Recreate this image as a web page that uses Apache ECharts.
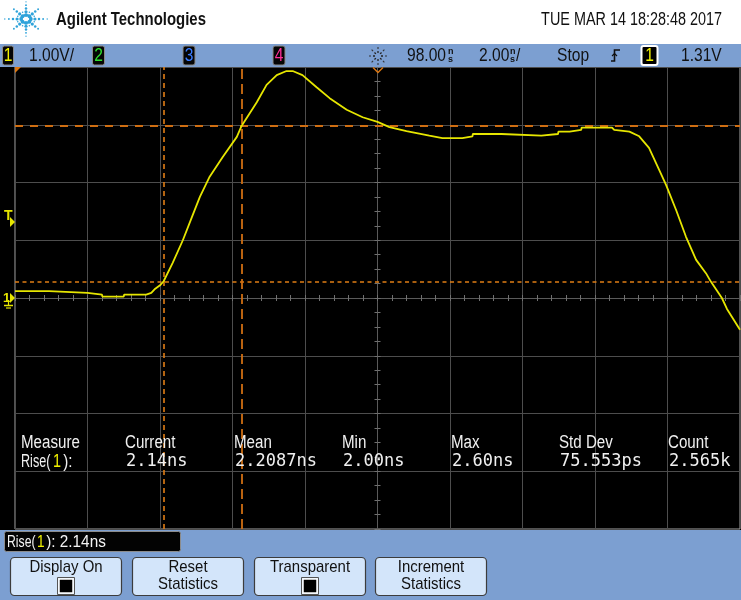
<!DOCTYPE html>
<html><head><meta charset="utf-8">
<script src="https://cdn.jsdelivr.net/npm/echarts@6/dist/echarts.min.js"></script>
<style>html,body{margin:0;padding:0;background:#000;}#c{width:741px;height:600px;}</style>
</head><body><div id="c"></div>
<script>
// ---- data ----
const timeNs = [88.00, 88.94, 88.95, 90.00, 90.01, 90.40, 90.41, 91.00, 91.01, 91.62, 91.63, 91.76,
  91.85, 92.00, 92.10, 92.35, 92.63, 92.88, 93.10, 93.37, 93.73, 94.12, 94.25, 94.67, 94.94, 95.22,
  95.49, 95.66, 95.93, 96.32, 96.68, 97.15, 97.59, 98.00, 98.33, 98.80, 99.43, 99.79, 100.34, 100.35,
  100.62, 100.63, 101.42, 101.43, 102.52, 102.53, 102.98, 102.99, 103.30, 103.31, 103.62, 103.63,
  104.47, 104.53, 104.95, 105.22, 105.49, 105.77, 105.96, 106.24, 106.51, 106.79, 107.06, 107.20,
  107.50, 107.64, 108.00];
const volts = [0.12, 0.12, 0.087, 0.087, 0.06, 0.06, 0.025, 0.025, 0.06, 0.06, 0.09, 0.09,
  0.15, 0.22, 0.29, 0.61, 1.00, 1.40, 1.75, 2.10, 2.44, 2.79, 2.98, 3.39, 3.69, 3.86,
  3.93, 3.93, 3.86, 3.65, 3.46, 3.26, 3.13, 3.05, 2.96, 2.89, 2.81, 2.77, 2.77, 2.80,
  2.80, 2.84, 2.84, 2.81, 2.81, 2.84, 2.84, 2.88, 2.88, 2.91, 2.91, 2.95,
  2.95, 2.91, 2.88, 2.80, 2.60, 2.22, 1.96, 1.52, 1.06, 0.66, 0.43, 0.28,
  0.00, -0.19, -0.55];
const delayNs = 98.00;          // horizontal position (screen centre)
const timePerDiv = 2.00;        // ns/div
const voltsPerDiv = 1.00;       // V/div
const hCursorV = [0.29, 2.98];  // rise-time threshold cursors (V)
const vCursorNs = [92.10, 94.25];
const measHeaders = ['Measure', 'Current', 'Mean', 'Min', 'Max', 'Std Dev', 'Count'];
const measValues = ['2.14ns', '2.2087ns', '2.00ns', '2.60ns', '75.553ps', '2.565k'];
const headerDate = 'TUE MAR 14 18:28:48 2017';
const triggerLevel = '1.31V';

// ---- drawing ----
const F = 'Liberation Sans, Arial, sans-serif';
const MONO = 'DejaVu Sans Mono, monospace';
const BLUE = '#7c9fd1';
const ORANGE = '#dc7712';
const YEL = '#e6e600';
const G = [];
function txt(x, y, s, size, color, o) {
  o = o || {};
  return { type: 'text', x: x, y: y, scaleX: o.sx == null ? 0.82 : o.sx, z: 100, silent: true,
    style: { x: 0, y: 0, text: s, fill: color,
      font: (o.bold ? 'bold ' : '') + size + 'px ' + (o.font || F),
      textAlign: o.align || 'left', align: o.align || 'left',
      textVerticalAlign: 'middle', verticalAlign: 'middle' } };
}
function rect(x, y, w, h, fill, stroke, lw, r) {
  return { type: 'rect', z: 90, silent: true, shape: { x: x, y: y, width: w, height: h, r: r || 0 },
    style: { fill: fill || 'none', stroke: stroke || 'none', lineWidth: lw || 1 } };
}
function poly(points, stroke, lw, fill) {
  return { type: fill ? 'polygon' : 'polyline', z: 95, silent: true, shape: { points: points },
    style: { stroke: stroke || 'none', lineWidth: lw || 1, fill: fill || 'none' } };
}
// header + panels
G.push(rect(0, 0, 741, 44, '#ffffff'));
G.push(rect(0, 44, 741, 23, BLUE));
G.push(rect(0, 530, 741, 70, BLUE));
// Agilent spark logo
(function () {
  const cx = 26, cy = 19;
  for (let a = 0; a < 16; a++) {
    const ang = a * Math.PI / 8;
    const main = a % 2 === 0;
    const n = main ? (a % 4 === 0 ? 5 : 4) : 2;
    for (let k = 0; k < n; k++) {
      const r = 4.6 + k * 3.9;
      const rad = main ? [1.9, 1.6, 1.25, 0.95, 0.7][k] : [1.2, 0.8][k];
      G.push({ type: 'circle', z: 90, silent: true,
        shape: { cx: cx + r * Math.cos(ang) * 1.05, cy: cy + r * Math.sin(ang) * 0.85, r: rad },
        style: { fill: '#2fa3da' } });
    }
  }
})();
G.push(txt(56, 20, 'Agilent Technologies', 18, '#111', { bold: true, sx: 0.83 }));
G.push(txt(722, 20, headerDate, 18, '#111', { align: 'right', sx: 0.8 }));
// channel boxes in top bar
function chBox(x, w, label, color, border, lw) {
  G.push(rect(x, 46, w, 19, '#050505', border, lw, 2));
  G.push(txt(x + w / 2, 56, label, 19, color, { align: 'center' }));
}
chBox(2.5, 11, '1', '#f2f200', '#8a8a8a', 1);
G.push(txt(29, 56, '1.00V/', 19, '#111'));
chBox(92.5, 12, '2', '#2fe02f', '#8a8a8a', 1);
chBox(183, 12, '3', '#3a7cff', '#8a8a8a', 1);
chBox(273, 12, '4', '#ff2f9a', '#8a8a8a', 1);
// acquisition sparkle icon
(function () {
  const cx = 378, cy = 56;
  for (let a = 0; a < 8; a++) {
    const ang = a * Math.PI / 4;
    const c = Math.cos(ang), s = Math.sin(ang);
    G.push(poly([[cx + 3 * c, cy + 3 * s], [cx + 5 * c, cy + 5 * s]], '#222', 1.3));
    G.push(poly([[cx + 7 * c, cy + 7 * s], [cx + 9 * c, cy + 9 * s]], '#333', 1.1));
  }
})();
G.push(txt(407, 56, '98.00', 19, '#111'));
G.push(txt(448, 51.5, 'n', 9, '#111', { bold: true, sx: 1 }));
G.push(txt(448, 59.5, 's', 9, '#111', { bold: true, sx: 1 }));
G.push(txt(479, 56, '2.00', 19, '#111'));
G.push(txt(510, 51.5, 'n', 9, '#111', { bold: true, sx: 1 }));
G.push(txt(510, 59.5, 's', 9, '#111', { bold: true, sx: 1 }));
G.push(txt(516, 56, '/', 19, '#111'));
G.push(txt(557, 56, 'Stop', 19, '#111'));
G.push(poly([[611, 61], [614.5, 61], [614.5, 50], [620, 50]], '#111', 1.6));
G.push(poly([[612, 56], [614.5, 53.5], [617, 56]], '#111', 1.2));
G.push(rect(641.5, 46, 16, 19, '#000', '#ffffff', 2, 2));
G.push(txt(649.5, 56, '1', 19, '#f2f200', { align: 'center' }));
G.push(txt(681, 56, triggerLevel, 19, '#111'));
// graticule markers
G.push(poly([[15, 67], [21, 67], [15, 73]], null, 1, ORANGE));
G.push(poly([[373, 67.5], [378, 72.5], [383, 67.5]], ORANGE, 1.4));
G.push(txt(4, 216, 'T', 14, YEL, { bold: true, sx: 1 }));
G.push(poly([[10, 217], [15, 222], [10, 227]], null, 1, YEL));
G.push(txt(3, 298, '1', 13, YEL, { bold: true, sx: 1 }));
G.push(poly([[10, 293], [15, 298], [10, 303]], null, 1, YEL));
G.push(poly([[8.5, 300], [8.5, 305]], YEL, 1.2));
G.push(poly([[4, 305.5], [13, 305.5]], YEL, 1.5));
G.push(poly([[6, 308], [11, 308]], YEL, 1.2));
// measurement table
const colX = [21, 125, 234, 342, 451, 559, 668];
measHeaders.forEach(function (h, i) { G.push(txt(colX[i], 443, h, 18, '#f0f0f0', { sx: 0.84 })); });
G.push(txt(21, 462, 'Rise(', 18, '#f0f0f0', { sx: 0.7 }));
G.push(txt(53, 462, '1', 18, '#f2f200', { sx: 0.8 }));
G.push(txt(59, 462, ' ):', 18, '#f0f0f0', { sx: 0.84 }));
measValues.forEach(function (v, i) { G.push(txt(colX[i + 1] + 1, 462, v, 17, '#f0f0f0', { font: MONO, sx: 1 })); });
// bottom panel
G.push(rect(4.5, 531.5, 176, 20, '#030303', '#8c8c8c', 1, 2));
G.push(txt(7, 542, 'Rise(', 17, '#f4f4f4', { sx: 0.72 }));
G.push(txt(37, 542, '1', 17, '#f2f200', { sx: 0.8 }));
G.push(txt(42, 542, ' ): 2.14ns', 17, '#f4f4f4', { sx: 0.9 }));
function button(x, lines, check) {
  G.push(rect(x + 0.5, 557.5, 111, 38, '#d3e5fa', '#3c3c3c', 1.2, 4));
  const cx = x + 56;
  if (lines.length === 1) {
    G.push(txt(cx, 567, lines[0], 17, '#111', { align: 'center', sx: 0.88 }));
  } else {
    G.push(txt(cx, 567, lines[0], 17, '#111', { align: 'center', sx: 0.88 }));
    G.push(txt(cx, 584, lines[1], 17, '#111', { align: 'center', sx: 0.88 }));
  }
  if (check) {
    G.push(rect(cx - 8.5, 577.5, 17, 17, 'none', '#555', 1));
    G.push(rect(cx - 7, 579, 14, 14, '#000', '#ffffff', 1.5));
  }
}
button(10, ['Display On'], true);
button(132, ['Reset', 'Statistics'], false);
button(254, ['Transparent'], true);
button(375, ['Increment', 'Statistics'], false);

const trace = timeNs.map(function (t, i) { return [t - delayNs, volts[i]]; });
const gridCol = '#4d4d4d';
function xAx(pos) {
  return { type: 'value', position: pos, min: -5 * timePerDiv, max: 5 * timePerDiv, interval: timePerDiv,
    axisLabel: { show: false }, splitLine: { show: pos === 'bottom', lineStyle: { color: gridCol, width: 1 } },
    axisLine: { show: true, onZero: true, lineStyle: { color: '#5a5a5a' } },
    axisTick: { show: true, length: 3, lineStyle: { color: '#707070' } },
    minorTick: { show: true, splitNumber: 5, length: 3, lineStyle: { color: '#707070' } } };
}
function yAx(pos) {
  return { type: 'value', position: pos, min: -4 * voltsPerDiv, max: 4 * voltsPerDiv, interval: voltsPerDiv,
    axisLabel: { show: false }, splitLine: { show: pos === 'left', lineStyle: { color: gridCol, width: 1 } },
    axisLine: { show: true, onZero: true, lineStyle: { color: '#5a5a5a' } },
    axisTick: { show: true, length: 3, lineStyle: { color: '#707070' } },
    minorTick: { show: true, splitNumber: 4, length: 3, lineStyle: { color: '#707070' } } };
}
const option = {
  backgroundColor: '#000000',
  animation: false,
  grid: { left: 15, top: 67, width: 725, height: 462, show: true, borderColor: '#a4a4a4', borderWidth: 1, backgroundColor: 'transparent' },
  xAxis: [xAx('bottom'), xAx('top')],
  yAxis: [yAx('left'), yAx('right')],
  graphic: { elements: G },
  series: [{
    type: 'line', data: trace, showSymbol: false, symbol: 'none', z: 5,
    lineStyle: { color: YEL, width: 1.8 },
    markLine: {
      silent: true, symbol: ['none', 'none'], label: { show: false }, animation: false,
      data: [
        { yAxis: hCursorV[0], lineStyle: { color: '#e07d14', width: 1.6, type: [4, 3.5] } },
        { yAxis: hCursorV[1], lineStyle: { color: '#cf6e12', width: 1.8, type: [8, 7] } },
        { xAxis: vCursorNs[0] - delayNs, lineStyle: { color: '#e07d14', width: 1.6, type: [5, 4] } },
        { xAxis: vCursorNs[1] - delayNs, lineStyle: { color: '#cf6e12', width: 1.8, type: [10, 5] } }
      ]
    }
  }]
};
const chart = echarts.init(document.getElementById('c'), null, { renderer: 'canvas', width: 741, height: 600 });
chart.setOption(option);
</script></body></html>
